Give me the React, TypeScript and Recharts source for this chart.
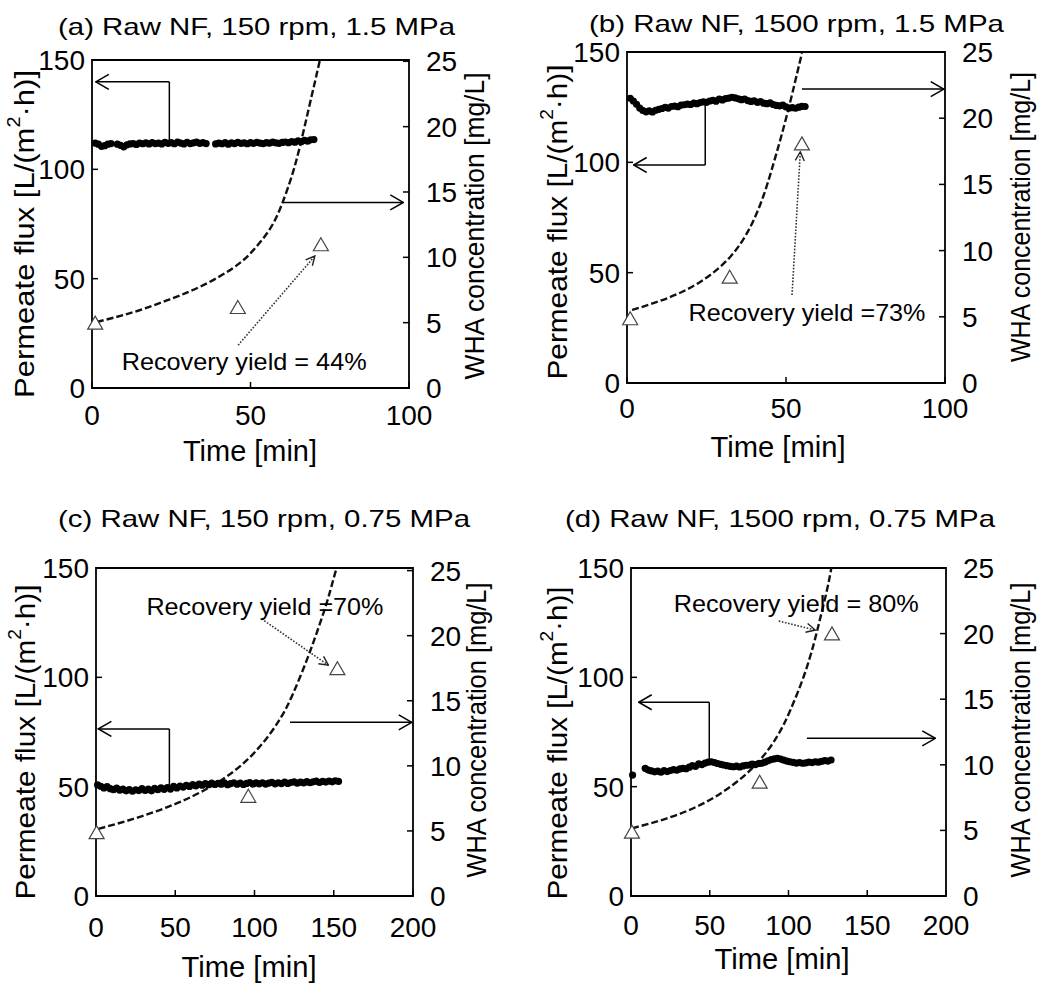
import React from "react";
import {
  ComposedChart,
  XAxis,
  YAxis,
  Scatter,
  Line,
  ReferenceLine,
  ReferenceDot,
  ReferenceArea,
} from "recharts";

const FONT = '"Liberation Sans", Arial, Helvetica, sans-serif';

// ---------- data ----------
const FLUX_TICKS = [0, 50, 100, 150];
const WHA_TICKS = [0, 5, 10, 15, 20, 25];
const TIME_TICKS_SHORT = [0, 50, 100];
const TIME_TICKS_LONG = [0, 50, 100, 150, 200];

// (a) Raw NF, 150 rpm, 1.5 MPa
const TITLE_A = "(a) Raw NF, 150 rpm, 1.5 MPa";
const FLUX_A_START = 1;
const FLUX_A_STEP = 1;
const FLUX_A = [
  112, 111.5, 110.5, 110.8, 111.5, 111.8, null,
  111.5, 111, 110.3, 111.2, 111.6, 111.8, 111.4, 112, 111.7, 112.1, 111.6, 112.2, 111.8,
  112, 111.6, 112.3, 111.9, 112.2, 111.7, 112.4, 112, 111.6, 112.3, 111.8, 112.1, 112.4, 111.9, 112.2, 111.8,
  null, null,
  111.6, 112, 111.7, 112.2, 111.5, 112.1, 111.8, 112.3, 111.9, 112.1,
  111.7, 112.2, 111.9, 112.3, 112, 111.8, 112.2, 112, 112.4, 112.1,
  111.9, 112.3, 112.5, 112.2, 112.7, 112.4, 113, 112.6, 113.2, 112.9,
  113.5, 113.6,
];
const CURVE_A_T = [1.5, 13, 23.6, 34.1, 44.6, 50.9, 56.2, 59.8, 63, 65.6, 68.2, 70.3, 71.9];
const CURVE_A_WHA = [5.05, 5.8, 6.7, 7.75, 9.2, 10.55, 12.2, 14.0, 16.2, 18.5, 21.2, 23.4, 25.1];
const SAMPLE_A_T = [1, 46, 72.2];
const SAMPLE_A_WHA = [5.0, 6.2, 11.0];
const YIELD_A = "Recovery yield = 44%";

// (b) Raw NF, 1500 rpm, 1.5 MPa
const TITLE_B = "(b) Raw NF, 1500 rpm, 1.5 MPa";
const FLUX_B_START = 1;
const FLUX_B_STEP = 1;
const FLUX_B = [
  129, 127.8, 126.3, 124.6, 123.5, 122.9, 123.3, 122.8, 123.6, 124,
  124.4, 124.9, 124.6, 125.3, 125.5, 125.2, 125.9, 126.1, 126.4, 126.2,
  126.8, 126.6, 127.1, 127.4, 127.2, 127.8, 128.1, 127.7, 128.6, 128.3,
  128.9, 129.1, 129.5, 129.2, 128.8, 128.4, 128.7, 128, 127.6, 127.9,
  127.2, 127.5, 126.8, 126.6, 126.9, 126.2, 125.8, 125.6, 125.9, 125.1,
  124.6, 124.8, 124.5, 125, 125.4, 125.3,
];
const CURVE_B_T = [1.6, 12.6, 23.1, 32.5, 38.8, 43, 46.1, 48.7, 51.4, 53.5, 55];
const CURVE_B_WHA = [5.51, 6.4, 7.65, 9.54, 11.8, 14.2, 16.6, 18.8, 21.3, 23.4, 24.9];
const SAMPLE_B_T = [1, 32.3, 55];
const SAMPLE_B_WHA = [4.89, 8.03, 18.1];
const YIELD_B = "Recovery yield =73%";

// (c) Raw NF, 150 rpm, 0.75 MPa
const TITLE_C = "(c) Raw NF, 150 rpm, 0.75 MPa";
const FLUX_C_START = 1;
const FLUX_C_STEP = 2;
const FLUX_C = [
  50.8, 50.2, 49.4, 50, 49.1, 48.6, 49.3, 48.4, 48.9, 48.1,
  48.7, 47.9, 48.6, 48.2, 49.1, 48.3, 48.9, 48.1, 49.2, 48.6,
  49.5, 48.8, 49.6, 48.9, 50.1, 49.4, 50.3, 49.8, 50.6, 50.1,
  50.9, 50.4, 51.2, 50.7, 51.4, 50.9, 51.6, 51, 51.5, 51.1,
  51.7, 50.9, 51.4, 51.8, 51.1, 51.6, 51, 51.5, 51.9, 51.2,
  51.7, 51.3, 51.8, 51.2, 51.6, 52, 51.3, 51.8, 51.4, 52.1,
  51.5, 51.9, 52.2, 51.6, 52.1, 51.7, 52.3, 51.8, 52.2, 52.5,
  51.9, 52.4, 52.1, 52.6, 52.2, 52.7, 52.4,
];
const CURVE_C_T = [1.5, 23.5, 44.6, 65.6, 86.6, 103.5, 116.1, 124.5, 132.9, 139.2, 145.5, 149.7, 151.8];
const CURVE_C_WHA = [5.16, 5.92, 6.81, 7.95, 9.55, 11.5, 13.6, 15.6, 18.1, 20.2, 22.5, 24.3, 25.2];
const SAMPLE_C_T = [0.4, 96.1, 152.3];
const SAMPLE_C_WHA = [4.9, 7.7, 17.5];
const YIELD_C = "Recovery yield =70%";

// (d) Raw NF, 1500 rpm, 0.75 MPa
const TITLE_D = "(d) Raw NF, 1500 rpm, 0.75 MPa";
const FLUX_D_START = 1;
const FLUX_D_STEP = 2;
const FLUX_D = [
  55.3, null, null, null,
  58.4, 57.6, 57.2, 56.8, 57.1, 56.6, 57.3, 56.9, 57.4, 57.8,
  57.5, 58.1, 58.4, 58.2, 58.9, 59.6, 59.3, 60.4, 60.1, 60.8,
  61.2, 61.4, 61, 60.6, 60.2, 59.9, 59.6, 59.3, 59.1, 59.4,
  59, 59.5, 59.8, 59.9, 60.3, 60.1, 60.6, 60.7, 61.2, 61.8,
  62.4, 62.7, 63, 62.6, 62.1, 61.7, 61.4, 61.1, 60.8, 61,
  60.7, 60.9, 61.2, 61, 61.4, 61.2, 61.6, 61.9, 61.7, 62.2,
];
const CURVE_D_T = [0.6, 22.9, 44, 63.1, 80, 92.7, 101.2, 109.6, 116, 120.2, 124.4, 127.2];
const CURVE_D_WHA = [5.16, 5.92, 6.94, 8.33, 10.11, 12.14, 14.18, 16.71, 19.2, 21.2, 23.3, 25.0];
const SAMPLE_D_T = [0.6, 81.7, 127.6];
const SAMPLE_D_WHA = [4.9, 8.71, 20.02];
const YIELD_D = "Recovery yield = 80%";

// ---------- helpers ----------
type Pt = { t: number; y: number };

const evenSeries = (start: number, step: number, vals: (number | null)[]): Pt[] =>
  vals
    .map((v, i) => (v == null ? null : { t: start + i * step, y: v }))
    .filter((p): p is Pt => p !== null);

const pairs = (ts: number[], ys: number[]): Pt[] => ts.map((t, i) => ({ t, y: ys[i] }));

type Seg = {
  axis: "left" | "right";
  kind: "plain" | "arrow" | "dot";
  x1: number;
  y1: number;
  x2: number;
  y2: number;
};

type TextBox = { x: number; y: number; len: number };

interface Layout {
  left: number;
  top: number;
  width: number;
  height: number;
  plot: { x: number; y: number; w: number; h: number };
  xMax: number;
  xTicks: number[];
  xTickGap: number;
  title: TextBox;
  leftLabel: TextBox;
  rightLabel: TextBox;
  xLabel: TextBox;
  note: { x: number; y: number; len: number };
  segs: Seg[];
}

const segShape = (kind: Seg["kind"]) => (p: any) => (
  <line
    x1={p.x1}
    y1={p.y1}
    x2={p.x2}
    y2={p.y2}
    stroke={kind === "dot" ? "#333" : "#000"}
    strokeWidth={kind === "dot" ? 1.6 : 1.5}
    strokeDasharray={kind === "dot" ? "1.6 1.6" : undefined}
    markerEnd={kind === "plain" ? undefined : kind === "dot" ? "url(#arrowDot)" : "url(#arrowOpen)"}
  />
);

const FluxDot = (p: any) => <circle cx={p.cx} cy={p.cy} r={3.6} fill="#000" />;

const OpenTriangle = (p: any) => {
  const w = 15;
  const h = 13;
  const pts = `${p.cx},${p.cy - h / 2} ${p.cx + w / 2},${p.cy + h / 2} ${p.cx - w / 2},${p.cy + h / 2}`;
  return <polygon points={pts} fill="#fff" stroke="#444" strokeWidth={1.2} />;
};

interface PanelProps {
  L: Layout;
  title: string;
  flux: Pt[];
  curve: Pt[];
  samples: Pt[];
  note: string;
}

const Panel = ({ L, title, flux, curve, samples, note }: PanelProps) => {
  const tickStyle = { fontSize: 28, fill: "#000" };
  const rightW = L.width - L.plot.x - L.plot.w;
  const xH = L.height - L.plot.y - L.plot.h;

  const leftLabel = () => (
    <text
      x={L.leftLabel.x}
      y={L.leftLabel.y}
      transform={`rotate(-90 ${L.leftLabel.x} ${L.leftLabel.y})`}
      textAnchor="middle"
      dominantBaseline="central"
      fontSize={28}
      fill="#000"
      textLength={L.leftLabel.len}
      lengthAdjust="spacingAndGlyphs"
    >
      Permeate flux [L/(m
      <tspan dy={-10} fontSize={18}>2</tspan>
      <tspan dy={10}>·h)]</tspan>
    </text>
  );
  const rightLabel = () => (
    <text
      x={L.rightLabel.x}
      y={L.rightLabel.y}
      transform={`rotate(-90 ${L.rightLabel.x} ${L.rightLabel.y})`}
      textAnchor="middle"
      dominantBaseline="central"
      fontSize={28}
      fill="#000"
      textLength={L.rightLabel.len}
      lengthAdjust="spacingAndGlyphs"
    >
      WHA concentration [mg/L]
    </text>
  );
  const xLabel = () => (
    <text
      x={L.xLabel.x}
      y={L.xLabel.y}
      textAnchor="middle"
      dominantBaseline="central"
      fontSize={29}
      fill="#000"
      textLength={L.xLabel.len}
      lengthAdjust="spacingAndGlyphs"
    >
      Time [min]
    </text>
  );

  return (
    <div style={{ position: "absolute", left: L.left, top: L.top, width: L.width, height: L.height }}>
      <ComposedChart
        width={L.width}
        height={L.height}
        margin={{ top: L.plot.y, left: 0, right: 0, bottom: 0 }}
        style={{ fontFamily: FONT }}
      >
        <XAxis
          type="number"
          dataKey="t"
          domain={[0, L.xMax]}
          ticks={L.xTicks}
          interval={0}
          height={xH}
          axisLine={false}
          tickSize={-6}
          tickMargin={L.xTickGap + 6}
          tickLine={{ stroke: "#000", strokeWidth: 1.5 }}
          tick={tickStyle}
          label={xLabel}
        />
        <YAxis
          yAxisId="left"
          orientation="left"
          type="number"
          domain={[0, 150]}
          ticks={FLUX_TICKS}
          interval={0}
          width={L.plot.x}
          axisLine={false}
          tickSize={-6}
          tickMargin={13}
          tickLine={{ stroke: "#000", strokeWidth: 1.5 }}
          tick={tickStyle}
          label={leftLabel}
        />
        <YAxis
          yAxisId="right"
          orientation="right"
          type="number"
          domain={[0, 25]}
          ticks={WHA_TICKS}
          interval={0}
          width={rightW}
          axisLine={false}
          tickSize={-6}
          tickMargin={23}
          tickLine={{ stroke: "#000", strokeWidth: 1.5 }}
          tick={tickStyle}
          label={rightLabel}
        />
        <ReferenceArea
          yAxisId="left"
          x1={0}
          x2={L.xMax}
          y1={0}
          y2={150}
          fill="none"
          fillOpacity={0}
          stroke="#000"
          strokeWidth={1.8}
          ifOverflow="visible"
        />
        <ReferenceDot
          yAxisId="right"
          x={L.note.x}
          y={L.note.y}
          r={0}
          ifOverflow="visible"
          shape={(p: any) => (
            <text
              x={p.cx}
              y={p.cy}
              textAnchor="middle"
              dominantBaseline="central"
              fontSize={24}
              fill="#000"
              textLength={L.note.len}
              lengthAdjust="spacingAndGlyphs"
            >
              {note}
            </text>
          )}
        />
        {L.segs.map((s, i) => (
          <ReferenceLine
            key={i}
            yAxisId={s.axis}
            segment={[
              { x: s.x1, y: s.y1 },
              { x: s.x2, y: s.y2 },
            ]}
            ifOverflow="visible"
            shape={segShape(s.kind)}
          />
        ))}
        <Line
          yAxisId="right"
          data={curve}
          dataKey="y"
          type="natural"
          stroke="#111"
          strokeWidth={2.4}
          strokeDasharray="7 3"
          dot={false}
          isAnimationActive={false}
        />
        <Scatter yAxisId="left" data={flux} dataKey="y" shape={FluxDot} isAnimationActive={false} />
        <Scatter yAxisId="right" data={samples} dataKey="y" shape={OpenTriangle} isAnimationActive={false} />
      </ComposedChart>
      <svg
        width={L.width}
        height={50}
        style={{ position: "absolute", left: 0, top: 0, pointerEvents: "none", fontFamily: FONT }}
      >
        <text
          x={L.title.x}
          y={L.title.y}
          fontSize={24}
          fill="#000"
          textLength={L.title.len}
          lengthAdjust="spacingAndGlyphs"
        >
          {title}
        </text>
      </svg>
    </div>
  );
};

// ---------- layout ----------
const LAYOUT_A: Layout = {
  left: 0,
  top: 0,
  width: 517,
  height: 487,
  plot: { x: 92, y: 60, w: 317, h: 328 },
  xMax: 100,
  xTicks: TIME_TICKS_SHORT,
  xTickGap: 17,
  title: { x: 58, y: 35, len: 397 },
  leftLabel: { x: 24, y: 234, len: 328 },
  rightLabel: { x: 474, y: 226, len: 307 },
  xLabel: { x: 250, y: 451, len: 134 },
  note: { x: 48, y: 2.0, len: 245 },
  segs: [
    { axis: "left", kind: "plain", x1: 24.4, y1: 112, x2: 24.4, y2: 140 },
    { axis: "left", kind: "arrow", x1: 24.4, y1: 140, x2: 1.2, y2: 140 },
    { axis: "right", kind: "arrow", x1: 60.3, y1: 14.2, x2: 98.2, y2: 14.2 },
    { axis: "right", kind: "dot", x1: 46.1, y1: 3.28, x2: 70.3, y2: 10.1 },
  ],
};

const LAYOUT_B: Layout = {
  left: 517,
  top: 0,
  width: 520,
  height: 487,
  plot: { x: 110, y: 52, w: 318, h: 331 },
  xMax: 100,
  xTicks: TIME_TICKS_SHORT,
  xTickGap: 15,
  title: { x: 72, y: 32, len: 415 },
  leftLabel: { x: 40, y: 222, len: 315 },
  rightLabel: { x: 503, y: 217, len: 290 },
  xLabel: { x: 261, y: 447, len: 135 },
  note: { x: 56.6, y: 5.36, len: 237 },
  segs: [
    { axis: "left", kind: "plain", x1: 24.6, y1: 127.5, x2: 24.6, y2: 98.8 },
    { axis: "left", kind: "arrow", x1: 24.6, y1: 98.8, x2: 2.1, y2: 98.8 },
    { axis: "right", kind: "arrow", x1: 55, y1: 22.2, x2: 99.6, y2: 22.2 },
    { axis: "right", kind: "dot", x1: 51.9, y1: 6.65, x2: 54.5, y2: 17.47 },
  ],
};

const LAYOUT_C: Layout = {
  left: 0,
  top: 490,
  width: 517,
  height: 497,
  plot: { x: 96, y: 78, w: 317, h: 328 },
  xMax: 200,
  xTicks: TIME_TICKS_LONG,
  xTickGap: 21,
  title: { x: 58, y: 37, len: 412 },
  leftLabel: { x: 25, y: 252, len: 315 },
  rightLabel: { x: 476, y: 240, len: 295 },
  xLabel: { x: 249, y: 477, len: 135 },
  note: { x: 106.6, y: 22.26, len: 237 },
  segs: [
    { axis: "left", kind: "plain", x1: 46.3, y1: 48.5, x2: 46.3, y2: 76.4 },
    { axis: "left", kind: "arrow", x1: 46.3, y1: 76.4, x2: 1.5, y2: 76.4 },
    { axis: "right", kind: "arrow", x1: 122.4, y1: 13.34, x2: 199.2, y2: 13.34 },
    { axis: "right", kind: "dot", x1: 104.5, y1: 21.29, x2: 146.6, y2: 17.73 },
  ],
};

const LAYOUT_D: Layout = {
  left: 517,
  top: 490,
  width: 520,
  height: 497,
  plot: { x: 114, y: 78, w: 315, h: 328 },
  xMax: 200,
  xTicks: TIME_TICKS_LONG,
  xTickGap: 19,
  title: { x: 48, y: 37, len: 430 },
  leftLabel: { x: 40, y: 253, len: 313 },
  rightLabel: { x: 503, y: 240, len: 295 },
  xLabel: { x: 265, y: 469, len: 135 },
  note: { x: 104.9, y: 22.26, len: 245 },
  segs: [
    { axis: "left", kind: "plain", x1: 49.7, y1: 62.2, x2: 49.7, y2: 88.6 },
    { axis: "left", kind: "arrow", x1: 49.7, y1: 88.6, x2: 4.9, y2: 88.6 },
    { axis: "right", kind: "arrow", x1: 111.7, y1: 12.02, x2: 193.2, y2: 12.02 },
    { axis: "right", kind: "dot", x1: 93.8, y1: 20.96, x2: 117, y2: 20.27 },
  ],
};

export default function App() {
  return (
    <div
      style={{
        position: "absolute",
        left: 0,
        top: 0,
        width: 1037,
        height: 987,
        background: "#fff",
        fontFamily: FONT,
      }}
    >
      <svg width={0} height={0} style={{ position: "absolute" }}>
        <defs>
          <marker
            id="arrowOpen"
            viewBox="0 0 15 17"
            refX={14}
            refY={8.5}
            markerWidth={15}
            markerHeight={17}
            markerUnits="userSpaceOnUse"
            orient="auto"
          >
            <path d="M1,1 L14,8.5 L1,16" fill="none" stroke="#000" strokeWidth={1.5} />
          </marker>
          <marker
            id="arrowDot"
            viewBox="0 0 11 11"
            refX={10}
            refY={5.5}
            markerWidth={11}
            markerHeight={11}
            markerUnits="userSpaceOnUse"
            orient="auto"
          >
            <path d="M1,1 L10,5.5 L1,10" fill="none" stroke="#222" strokeWidth={1.4} />
          </marker>
        </defs>
      </svg>
      <Panel
        L={LAYOUT_A}
        title={TITLE_A}
        flux={evenSeries(FLUX_A_START, FLUX_A_STEP, FLUX_A)}
        curve={pairs(CURVE_A_T, CURVE_A_WHA)}
        samples={pairs(SAMPLE_A_T, SAMPLE_A_WHA)}
        note={YIELD_A}
      />
      <Panel
        L={LAYOUT_B}
        title={TITLE_B}
        flux={evenSeries(FLUX_B_START, FLUX_B_STEP, FLUX_B)}
        curve={pairs(CURVE_B_T, CURVE_B_WHA)}
        samples={pairs(SAMPLE_B_T, SAMPLE_B_WHA)}
        note={YIELD_B}
      />
      <Panel
        L={LAYOUT_C}
        title={TITLE_C}
        flux={evenSeries(FLUX_C_START, FLUX_C_STEP, FLUX_C)}
        curve={pairs(CURVE_C_T, CURVE_C_WHA)}
        samples={pairs(SAMPLE_C_T, SAMPLE_C_WHA)}
        note={YIELD_C}
      />
      <Panel
        L={LAYOUT_D}
        title={TITLE_D}
        flux={evenSeries(FLUX_D_START, FLUX_D_STEP, FLUX_D)}
        curve={pairs(CURVE_D_T, CURVE_D_WHA)}
        samples={pairs(SAMPLE_D_T, SAMPLE_D_WHA)}
        note={YIELD_D}
      />
    </div>
  );
}
